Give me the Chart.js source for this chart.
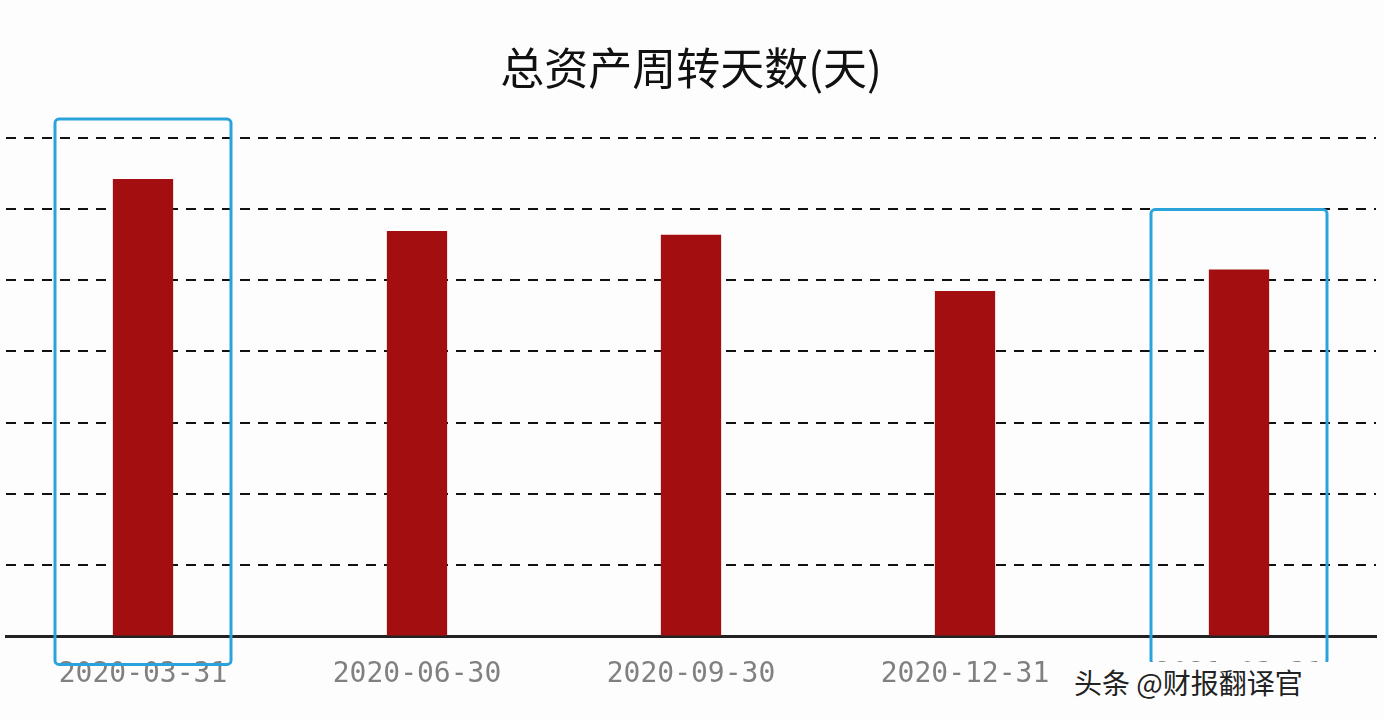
<!DOCTYPE html>
<html>
<head>
<meta charset="utf-8">
<script src="https://cdn.jsdelivr.net/npm/chart.js@4"></script>
<style>
html, body { margin: 0; padding: 0; background: #fdfdfd; }
#wrap { width: 1384px; height: 720px; position: relative; }
#mark { position: absolute; left: 1066px; top: 662px; width: 300px; font: 28px "Noto Sans CJK SC"; color: #222; background: #fdfdfd; padding: 0 8px; }
</style>
</head>
<body>
<div id="wrap"><canvas id="CHRT" width="1384" height="720"></canvas><div id="mark">头条 @财报翻译官</div></div>
<script>
var labels = ["2020-03-31", "2020-06-30", "2020-09-30", "2020-12-31", "2021-03-31"];
var values = [6.42, 5.69, 5.64, 4.85, 5.15];
var boxed = [0, 4];

// blue highlight frames around chosen bars
var boxPlugin = {
    id: 'boxes',
    afterDraw: function (chart) {
        var ctx = chart.ctx;
        var x = chart.scales.x, y = chart.scales.y;
        ctx.save();
        ctx.strokeStyle = "#2aa3dc";
        ctx.lineWidth = 3;
        for (var i = 0; i < boxed.length; i++) {
            var k = boxed[i];
            var cx = x.getPixelForValue(k);
            var top = y.getPixelForValue(values[k]) - 60;
            var bot = y.getPixelForValue(0) + 28;
            ctx.beginPath();
            ctx.roundRect(cx - 88, top, 176, bot - top, 4);
            ctx.stroke();
        }
        ctx.restore();
    }
};

var ctx = document.getElementById("CHRT").getContext('2d');
var myChart = new Chart(ctx, {
    type: 'bar',
    data: {
        labels: labels,
        datasets: [{
            data: values,
            backgroundColor: "#a30f10",
            barPercentage: 0.22,
            categoryPercentage: 1
        }]
    },
    options: {
        responsive: false,
        animation: false,
        layout: { padding: { left: 6, right: 8, top: 0, bottom: 14 } },
        plugins: {
            legend: { display: false },
            tooltip: { enabled: false },
            title: {
                display: true,
                text: "总资产周转天数(天)",
                color: "#111",
                font: { family: "Noto Sans CJK SC", size: 44, weight: 'normal' },
                padding: { top: 42, bottom: 43 }
            }
        },
        scales: {
            x: {
                grid: { display: false },
                border: { color: "#222", width: 3 },
                ticks: { color: "#808080", font: { family: "DejaVu Sans Mono", size: 28 }, padding: 14, maxRotation: 0 }
            },
            y: {
                min: 0, max: 7,
                ticks: { display: false, stepSize: 1 },
                border: { display: false, dash: [10, 8] },
                grid: { color: "#111", lineWidth: 2, drawTicks: false }
            }
        }
    },
    plugins: [boxPlugin]
});
</script>
</body>
</html>
